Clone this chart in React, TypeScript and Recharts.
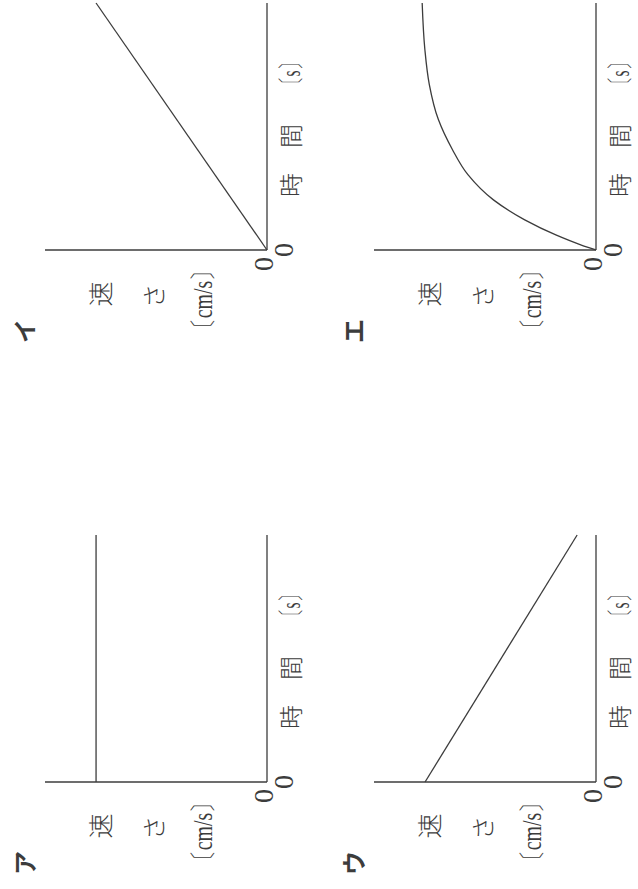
import { LineChart, Line, XAxis, YAxis, Label } from 'recharts'

// four speed–time sketches (ア〜エ), no scale values, only the origin "0"
const PANEL_NAMES = ['ア', 'イ', 'ウ', 'エ']

const LINE_TIME = [0, 10]
const SPEED_A = [7.7, 7.7]
const SPEED_B = [0, 7.7]
const SPEED_C = [7.7, 0.85]

const CURVE_TIME = [0, 0.2, 0.61, 1.22, 2.03, 3.05, 4.07, 5.28, 6.71, 8.13, 10]
const CURVE_SPEED = [0, 0.66, 1.81, 3.21, 4.62, 5.77, 6.47, 7.1, 7.51, 7.71, 7.83]

const TIME_LABEL = ['時', '間', '〔s〕']
const SPEED_LABEL = ['速', 'さ', '〔cm/s〕']
const ORIGIN_TICK = [0]

const INK = '#3c3c3c'
const SERIF = "'Liberation Serif', 'Times New Roman', 'DejaVu Serif', serif"
const CJK = "'Noto Sans CJK JP', sans-serif"

const toRows = (ts: number[], vs: number[]) => ts.map((t, i) => ({ t, v: vs[i] }))

const PANELS = [
  { name: PANEL_NAMES[0], rows: toRows(LINE_TIME, SPEED_A), curve: 'linear', left: 0, top: 0 },
  { name: PANEL_NAMES[1], rows: toRows(LINE_TIME, SPEED_B), curve: 'linear', left: 532, top: 0 },
  { name: PANEL_NAMES[2], rows: toRows(LINE_TIME, SPEED_C), curve: 'linear', left: 0, top: 329 },
  { name: PANEL_NAMES[3], rows: toRows(CURVE_TIME, CURVE_SPEED), curve: 'monotone', left: 532, top: 329 },
]

const serifText = { fontFamily: SERIF, fontWeight: 400 }
const cjkText = { fontFamily: CJK, fontWeight: 300 }

const XZero = (p: any) => (
  <text x={p.x} y={p.y + 26} textAnchor="middle" fontSize={28} style={serifText} fill={INK}>
    0
  </text>
)

const YZero = (p: any) => (
  <text x={p.x - 7} y={p.y + 6} textAnchor="end" fontSize={28} style={serifText} fill={INK}>
    0
  </text>
)

const TimeTitle = () => (
  <g fill={INK}>
    <text x={172} y={300} textAnchor="middle" fontSize={24} style={cjkText}>
      {TIME_LABEL[0]}
    </text>
    <text x={221} y={300} textAnchor="middle" fontSize={24} style={cjkText}>
      {TIME_LABEL[1]}
    </text>
    <text x={265} y={300} fontSize={27} style={serifText} textLength={37} lengthAdjust="spacingAndGlyphs">
      {TIME_LABEL[2]}
    </text>
  </g>
)

const SpeedTitle = () => (
  <g fill={INK}>
    <text x={63} y={110} textAnchor="middle" fontSize={25} style={cjkText}>
      {SPEED_LABEL[0]}
    </text>
    <text x={61} y={163} textAnchor="middle" fontSize={24} style={cjkText}>
      {SPEED_LABEL[1]}
    </text>
    <text x={19} y={212} fontSize={27} style={serifText} textLength={77} lengthAdjust="spacingAndGlyphs">
      {SPEED_LABEL[2]}
    </text>
  </g>
)

function Panel({ name, rows, curve, left, top }: any) {
  return (
    <div style={{ position: 'absolute', left, top, width: 360, height: 320 }}>
      <LineChart width={360} height={320} data={rows} margin={{ top: 45, right: 6, bottom: 13, left: 7 }}>
        <XAxis
          dataKey="t"
          type="number"
          domain={[0, 10]}
          ticks={ORIGIN_TICK}
          interval={0}
          height={40}
          tickSize={0}
          tickMargin={0}
          tickLine={false}
          tick={XZero}
          axisLine={{ stroke: INK, strokeWidth: 1.3 }}
        >
          <Label content={TimeTitle} />
        </XAxis>
        <YAxis
          type="number"
          domain={[0, 10]}
          ticks={ORIGIN_TICK}
          interval={0}
          width={100}
          tickSize={0}
          tickMargin={0}
          tickLine={false}
          tick={YZero}
          axisLine={{ stroke: INK, strokeWidth: 1.3 }}
        >
          <Label content={SpeedTitle} />
        </YAxis>
        <Line
          dataKey="v"
          type={curve}
          stroke={INK}
          strokeWidth={1.3}
          dot={false}
          activeDot={false}
          isAnimationActive={false}
        />
      </LineChart>
      <div
        style={{
          position: 'absolute',
          left: 14,
          top: 12,
          fontFamily: CJK,
          fontWeight: 700,
          fontSize: 24,
          lineHeight: 1,
          color: INK,
        }}
      >
        {name}
      </div>
    </div>
  )
}

export default function App() {
  return (
    <div
      style={{
        position: 'absolute',
        left: 0,
        top: 0,
        width: 638,
        height: 889,
        overflow: 'hidden',
        background: '#fff',
      }}
    >
      {/* the sheet is laid out landscape and turned a quarter counter-clockwise */}
      <div
        style={{
          position: 'absolute',
          left: 0,
          top: 0,
          width: 889,
          height: 638,
          transformOrigin: '0 0',
          transform: 'translate(0px, 889px) rotate(-90deg)',
        }}
      >
        {PANELS.map((p) => (
          <Panel key={p.name} {...p} />
        ))}
      </div>
    </div>
  )
}
